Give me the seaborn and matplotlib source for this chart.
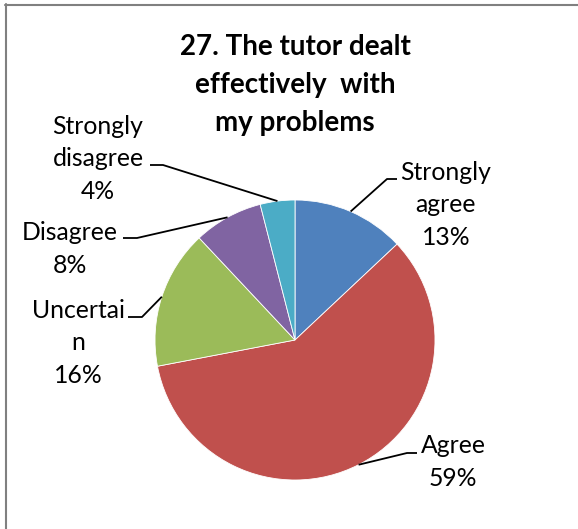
import matplotlib
matplotlib.use("Agg")
import matplotlib.pyplot as plt
import seaborn as sns
import numpy as np
from matplotlib.lines import Line2D

# Data
categories = ["Strongly\nagree", "Agree", "Uncertai\nn", "Disagree", "Strongly\ndisagree"]
percents = [13, 59, 16, 8, 4]
colors = ["#4F81BD", "#C0504D", "#9BBB59", "#8064A2", "#4BACC6"]
title = "27. The tutor dealt\neffectively  with\nmy problems"

sns.set_theme(style="white")
plt.rcParams["font.family"] = ["Lato", "DejaVu Sans"]

W, H = 578, 529
fig = plt.figure(figsize=(W / 100, H / 100), dpi=100)
ax = fig.add_axes([0, 0, 1, 1])


def px(x, y):
    # image pixel coords (y down) -> data coords (y up)
    return x, H - y


cx, cy = px(295, 340)
R = 140
wedges, _ = ax.pie(percents, colors=colors, startangle=90, counterclock=False,
                   center=(cx, cy), radius=R,
                   wedgeprops=dict(edgecolor="white", linewidth=0.6))
ax.set_xlim(0, W)
ax.set_ylim(0, H)
ax.set_aspect("auto")
ax.axis("off")

# label layout: (elbow, line end, text centre) in image pixels
layout = [
    ((387, 179), (397, 179), (446, 205)),
    ((407, 453), (417, 453), (453, 462)),
    ((142, 317), (128, 317), (78, 343)),
    ((137, 238), (123, 238), (70, 249)),
    ((163, 165), (150, 165), (98, 159)),
]

for w, cat, pct, (elb, end, txt) in zip(wedges, categories, percents, layout):
    mid = np.deg2rad((w.theta1 + w.theta2) / 2)
    sx, sy = cx + R * np.cos(mid), cy + R * np.sin(mid)
    ex, ey = px(*elb)
    fx, fy = px(*end)
    ax.plot([sx, ex, fx], [sy, ey, fy], color="black", lw=1.3,
            solid_capstyle="butt")
    tx, ty = px(*txt)
    ax.text(tx, ty, f"{cat}\n{pct}%", ha="center", va="center",
            fontsize=17.8, linespacing=1.5, color="black")

tx, ty = px(295, 85)
ax.text(tx, ty, title, ha="center", va="center", fontsize=20,
        fontweight="bold", linespacing=1.55, color="black")

# frame lines like the source screenshot
fig.add_artist(Line2D([5 / W, 1], [1 - 4.5 / H, 1 - 4.5 / H],
                      color="#808080", lw=1.5, transform=fig.transFigure))
fig.add_artist(Line2D([5.5 / W, 5.5 / W], [0, 1 - 4 / H],
                      color="#808080", lw=1.5, transform=fig.transFigure))

fig.savefig("out.png", dpi=100, facecolor="white")
